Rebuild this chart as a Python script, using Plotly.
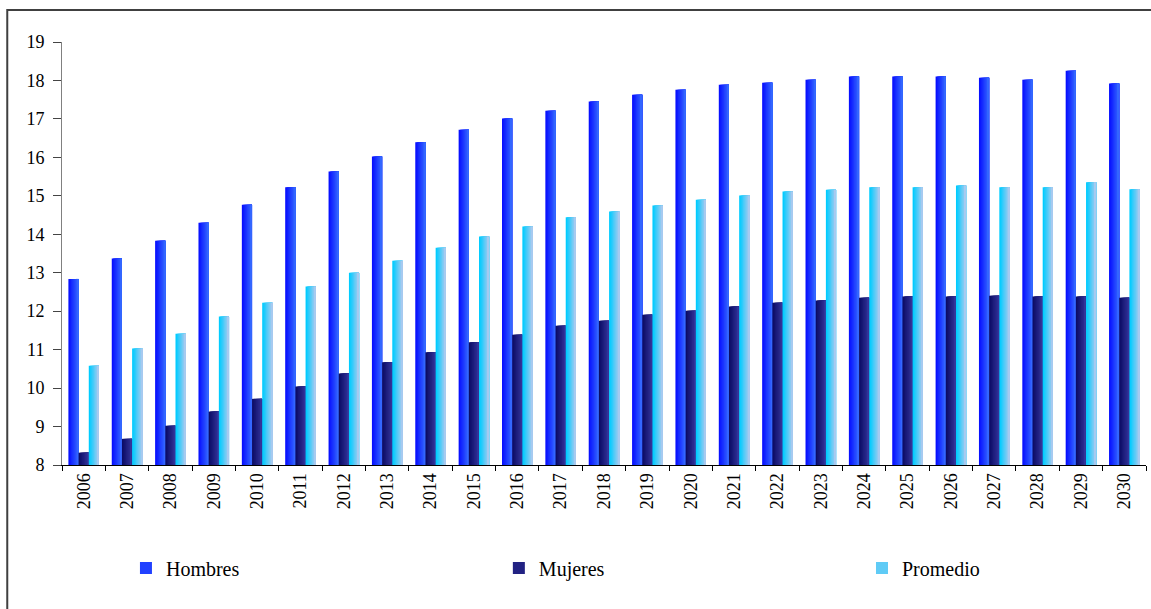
import plotly.graph_objects as go

# Años proyectados
years = [str(y) for y in range(2006, 2031)]

hombres = [12.84, 13.37, 13.83, 14.30, 14.77, 15.22, 15.63, 16.02, 16.39, 16.72,
           17.01, 17.21, 17.45, 17.63, 17.76, 17.89, 17.94, 18.02, 18.10, 18.10,
           18.10, 18.07, 18.02, 18.25, 17.92]
mujeres = [8.32, 8.68, 9.02, 9.39, 9.72, 10.04, 10.38, 10.67, 10.93, 11.19,
           11.39, 11.62, 11.75, 11.91, 12.01, 12.12, 12.22, 12.28, 12.35, 12.38,
           12.38, 12.40, 12.38, 12.38, 12.35]
promedio = [10.58, 11.03, 11.41, 11.86, 12.22, 12.64, 13.00, 13.31, 13.65, 13.94,
            14.20, 14.44, 14.59, 14.75, 14.90, 15.01, 15.11, 15.16, 15.22, 15.22,
            15.27, 15.22, 15.22, 15.35, 15.17]

y_ticks = list(range(8, 20))
Y_FLOOR = 8

FONT = "Liberation Serif"

# (nombre, valores, color izquierdo, color derecho, leyenda, posición x de la leyenda)
series = [
    ("Hombres", hombres, (0x08, 0x10, 0xFF), (0x33, 0x66, 0xFF), "legend", 0.059),
    ("Mujeres", mujeres, (0x0C, 0x0C, 0x66), (0x33, 0x33, 0x99), "legend2", 0.403),
    ("Promedio", promedio, (0x00, 0xCC, 0xFF), (0xA6, 0xCA, 0xF0), "legend3", 0.738),
]

bar_w = 0.235          # ancho de cada barra (unidades de categoría)
n_slices = 8           # franjas para simular el degradado horizontal
group_start = -1.5 * bar_w

fig = go.Figure()


def mix(c0, c1, t):
    return "rgb({},{},{})".format(*[round(a + (b - a) * t) for a, b in zip(c0, c1)])


legend_layouts = {}
for i, (name, vals, c_left, c_right, leg, leg_x) in enumerate(series):
    left = group_start + i * bar_w
    heights = [v - Y_FLOOR for v in vals]
    for k in range(n_slices):
        t = k / (n_slices - 1)
        off = left + k * bar_w / n_slices
        fig.add_trace(go.Bar(
            x=years, y=heights, base=Y_FLOOR, name=name,
            offset=off, width=bar_w - k * bar_w / n_slices,
            marker=dict(color=mix(c_left, c_right, t), line=dict(width=0)),
            legendgroup=name, legend=leg,
            showlegend=(k == n_slices // 2),
        ))
    legend_layouts[leg] = dict(
        orientation="h", x=leg_x, xanchor="left", y=-0.2435, yanchor="middle",
        font=dict(family=FONT, size=20, color="black"),
        bgcolor="rgba(0,0,0,0)", borderwidth=0, itemclick=False,
    )

fig.update_layout(
    width=1151, height=609,
    barmode="overlay",
    plot_bgcolor="white", paper_bgcolor="white",
    margin=dict(l=62, r=5, t=42, b=144),
    font=dict(family=FONT, size=18, color="black"),
    showlegend=True,
    **legend_layouts,
    xaxis=dict(
        type="category", tickson="boundaries", ticks="outside", ticklen=5,
        tickcolor="black", showline=True, linecolor="black", linewidth=1,
        tickangle=-90, showgrid=False, zeroline=False,
        tickfont=dict(family=FONT, size=18, color="black"),
    ),
    yaxis=dict(
        range=[8, 19], tickvals=y_ticks, ticks="outside", ticklen=8,
        tickcolor="#444444", showline=True, linecolor="#808080", linewidth=1,
        showgrid=False, zeroline=False, ticklabelstandoff=5,
        tickfont=dict(family=FONT, size=18, color="black"),
    ),
    shapes=[dict(
        type="rect", xref="paper", yref="paper",
        x0=-0.0505, x1=1.2, y0=1.0757, y1=-0.6,
        line=dict(color="#404040", width=2), fillcolor="rgba(0,0,0,0)",
        layer="above",
    )],
    annotations=[dict(
        text="(años de vida en promedio)", xref="paper", yref="paper",
        x=0.471, y=1.0946, xanchor="center", yanchor="bottom", showarrow=False,
        font=dict(family=FONT, size=18, color="black"),
    )],
)

fig.write_html("out.html")
